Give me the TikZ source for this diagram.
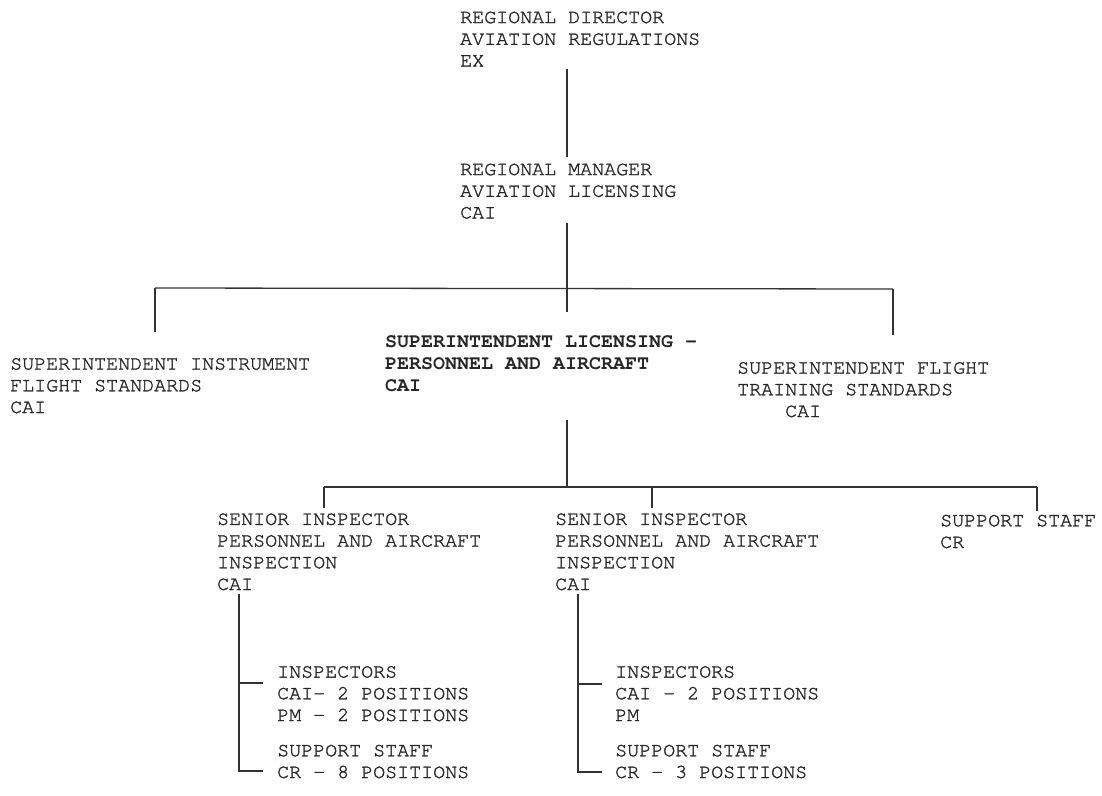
\documentclass[tikz,border=0pt]{standalone}
\usepackage{fontspec}
\setmonofont{TeX Gyre Cursor}[UprightFeatures={FakeBold=1.4}]

\begin{document}
\begin{tikzpicture}[x=1pt,y=-1pt,
  post/.style={anchor=base west, align=left, inner sep=0pt, text=black!85,
    font=\ttfamily\fontsize{20}{21.7}\selectfont},
  head/.style={post, font=\ttfamily\bfseries\fontsize{20}{21.7}\selectfont},
  link/.style={draw=black!80, line width=1.3pt}]
\useasboundingbox (0,0) rectangle (1102,795);

% offices (placed by the baseline of their last line)
\node[post] (dir) at (460,66.5) {REGIONAL DIRECTOR\\AVIATION REGULATIONS\\EX};
\node[post] (mgr) at (460,218.5) {REGIONAL MANAGER\\AVIATION LICENSING\\CAI};
\node[post] (sif) at (10,413) {SUPERINTENDENT INSTRUMENT\\FLIGHT STANDARDS\\CAI};
\node[head] (slp) at (385,391) {SUPERINTENDENT LICENSING -\\PERSONNEL AND AIRCRAFT\\CAI};
\node[post] (sft) at (737,417) {SUPERINTENDENT FLIGHT\\TRAINING STANDARDS\\\hspace*{2.4em}CAI};
\node[post] (si1) at (217,590) {SENIOR INSPECTOR\\PERSONNEL AND AIRCRAFT\\INSPECTION\\CAI};
\node[post] (si2) at (555,590) {SENIOR INSPECTOR\\PERSONNEL AND AIRCRAFT\\INSPECTION\\CAI};
\node[post] (sup) at (940,548) {SUPPORT STAFF\\CR};
\node[post] (ins1) at (277,721) {INSPECTORS\\CAI- 2 POSITIONS\\PM - 2 POSITIONS};
\node[post] (sst1) at (277,778) {SUPPORT STAFF\\CR - 8 POSITIONS};
\node[post] (ins2) at (615,721) {INSPECTORS\\CAI - 2 POSITIONS\\PM};
\node[post] (sst2) at (615,778) {SUPPORT STAFF\\CR - 3 POSITIONS};

% junctions
\coordinate (hub1) at (567,288);
\coordinate (l1) at (155,288);
\coordinate (r1) at (893,289);
\coordinate (hub2) at (567,487);
\coordinate (l2) at (324,487);
\coordinate (m2) at (652,487);
\coordinate (r2) at (1037,487);
\coordinate (v1) at (239,683);
\coordinate (w1) at (239,771);
\coordinate (v2) at (578,684);
\coordinate (w2) at (578,772);

% lines
\draw[link] ([yshift=-2pt]dir.south -| hub1) -- ([yshift=6pt]mgr.north -| hub1);
\draw[link] ([yshift=-4pt]mgr.south -| hub1) -- ([yshift=23pt]slp.north -| hub1);
\draw[link] (l1) -- (r1);
\draw[link] (l1) -- ([yshift=26pt]sif.north -| l1);
\draw[link] (r1) -- ([yshift=27pt]sft.north -| r1);
\draw[link] ([yshift=-29pt]slp.south -| hub1) -- (hub2);
\draw[link] (l2) -- (r2);
\draw[link] (l2) -- ([yshift=5pt]si1.north -| l2);
\draw[link] (m2) -- ([yshift=5pt]si2.north -| m2);
\draw[link] (r2) -- ([yshift=4pt]sup.north -| r2);
\draw[link] ([yshift=-3pt]si1.south -| v1) -- (w1) -- ([xshift=-14pt]sst1.west |- w1);
\draw[link] (v1) -- ([xshift=-14pt]ins1.west |- v1);
\draw[link] ([yshift=-3pt]si2.south -| v2) -- (w2) -- ([xshift=-13pt]sst2.west |- w2);
\draw[link] (v2) -- ([xshift=-13pt]ins2.west |- v2);
\end{tikzpicture}
\end{document}
